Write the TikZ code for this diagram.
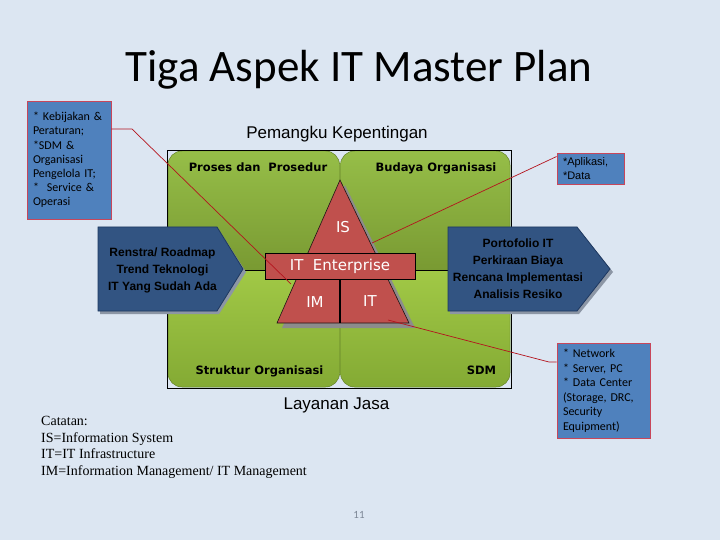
\documentclass[tikz,border=0pt]{standalone}
\usepackage{fontspec}
\setmainfont{Carlito}
\newfontfamily\arialf{Liberation Sans}
\newfontfamily\dejaf{DejaVu Sans}
\newfontfamily\timesf{Liberation Serif}
\usetikzlibrary{calc}
\definecolor{bg}{RGB}{220,230,242}
\definecolor{gTopA}{RGB}{150,190,72}
\definecolor{gTopB}{RGB}{118,150,48}
\definecolor{gBotA}{RGB}{164,204,72}
\definecolor{gBotB}{RGB}{132,170,52}
\definecolor{gEdge}{RGB}{100,130,40}
\definecolor{tri}{RGB}{192,80,77}
\definecolor{triD}{RGB}{30,20,20}
\definecolor{arA}{RGB}{50,84,130}
\definecolor{arB}{RGB}{30,56,96}
\definecolor{arTxt}{RGB}{0,0,0}
\definecolor{shd}{RGB}{140,150,165}
\definecolor{boxB}{RGB}{79,129,189}
\definecolor{boxR}{RGB}{200,70,90}
\definecolor{lineR}{RGB}{180,20,30}
\definecolor{pg}{RGB}{125,135,150}
\tikzset{
  quadlabel/.style={font=\dejaf\bfseries\fontsize{11.5}{14}\selectfont, anchor=base, inner sep=0pt},
  trilabel/.style={font=\dejaf\fontsize{15}{18}\selectfont, text=white, inner sep=0pt},
  arrowtext/.style={font=\arialf\bfseries\fontsize{12}{17}\selectfont, align=center, text=arTxt, inner sep=0pt},
  callbox/.style={draw=boxR, fill=boxB, line width=0.8pt, align=left, anchor=center, inner xsep=6pt, inner ysep=0pt},
  callline/.style={draw=lineR, line width=0.7pt},
  arrowshape/.style={fill=arA, draw=arB, line width=0.8pt},
}
\begin{document}
\begin{tikzpicture}[x=1pt,y=-1pt]
\fill[bg] (0,0) rectangle (720,540);
\useasboundingbox (0,0) rectangle (720,540);

% title
\node[font=\fontsize{45}{54}\selectfont, anchor=base, inner sep=0pt] (title) at (359,82) {Tiga Aspek IT Master Plan};

% green quadrants
\begin{scope}
  \clip (160,145) rectangle (339.5,270);
  \shade[top color=gTopA, bottom color=gTopB, draw=gEdge, line width=0.5pt, rounded corners=14pt] (168,151) rectangle (339.5,282);
\end{scope}
\begin{scope}
  \clip (340.5,145) rectangle (520,270);
  \shade[top color=gTopA, bottom color=gTopB, draw=gEdge, line width=0.5pt, rounded corners=14pt] (340.5,151) rectangle (510,282);
\end{scope}
\begin{scope}
  \clip (160,270) rectangle (339.5,395);
  \shade[top color=gBotA, bottom color=gBotB, draw=gEdge, line width=0.5pt, rounded corners=14pt] (168,258) rectangle (339.5,387);
\end{scope}
\begin{scope}
  \clip (340.5,270) rectangle (520,395);
  \shade[top color=gBotA, bottom color=gBotB, draw=gEdge, line width=0.5pt, rounded corners=14pt] (340.5,258) rectangle (510,387);
\end{scope}
\draw[line width=0.8pt] (167,150) rectangle (511,388);
\coordinate (midL) at (167,270);
\coordinate (midR) at (511,270);
\draw[line width=1pt] (midL) -- (midR);

% quadrant labels
\node[font=\arialf\fontsize{17}{20}\selectfont, anchor=base, inner sep=0pt] (pemangku) at (337,139) {Pemangku Kepentingan};
\node[quadlabel] (proses) at (258,172) {Proses dan\ \ Prosedur};
\node[quadlabel] (budaya) at (436,172) {Budaya Organisasi};
\node[quadlabel] (struktur) at (259.5,374) {Struktur Organisasi};
\node[quadlabel] (sdm) at (481.5,374) {SDM};
\node[font=\arialf\fontsize{17}{20}\selectfont, anchor=base, inner sep=0pt] (layanan) at (336.5,409) {Layanan Jasa};

% arrows
\fill[shd] (100,230) -- (219,230) -- (246,272) -- (219,314) -- (100,314) -- cycle;
\path[arrowshape] (98,227) -- (217,227) -- (243,269) -- (217,311) -- (98,311) -- cycle;
\node[arrowtext] (renstra) at (162.5,270) {Renstra/ Roadmap\\Trend Teknologi\\IT Yang Sudah Ada};

\fill[shd] (450,230) -- (579,230) -- (613,272) -- (579,314) -- (450,314) -- cycle;
\path[arrowshape] (448,227) -- (577,227) -- (610,269) -- (577,311) -- (448,311) -- cycle;
\node[arrowtext] (porto) at (518,269) {Portofolio IT\\Perkiraan Biaya\\Rencana Implementasi\\Analisis Resiko};

% triangle
\fill[black!45] (345,185) -- (415,328) -- (282,328) -- cycle;
\coordinate (apex) at (340,180);
\coordinate (baseR) at (409,323);
\coordinate (baseL) at (277,323);
\coordinate (baseM) at (340,323);
\filldraw[fill=tri, draw=triD, line width=0.6pt] (apex) -- (baseR) -- (baseL) -- cycle;

% callout boxes
\node[callbox, minimum width=84pt, minimum height=118pt, text width=72pt, font=\fontsize{12}{14.2}\selectfont] (lbox) at (69,160)
  {* Kebijakan \&\\Peraturan;\\{*}SDM \&\\Organisasi\\Pengelola IT;\\{*}\ \ Service \&\\Operasi\\[3pt]};
\node[callbox, minimum width=67pt, minimum height=31pt, text width=55pt, font=\arialf\fontsize{11}{14}\selectfont] (tbox) at (590.5,168.5)
  {*Aplikasi,\\{*}Data};
\node[callbox, minimum width=93pt, minimum height=95pt, text width=81pt, font=\fontsize{12}{14.5}\selectfont] (bbox) at (603.5,390.5)
  {* Network\\{*} Server, PC\\{*} Data Center\\(Storage, DRC,\\Security\\Equipment)};

% IT enterprise bar and labels
\node[draw=black, fill=tri, line width=0.8pt, minimum width=150pt, minimum height=26pt, inner sep=0pt, trilabel] (ent) at (340,266) {IT\ \ Enterprise};
\draw[line width=2pt] (ent.south) -- (baseM);
\node[trilabel] (is) at (343,227) {IS};
\node[trilabel] (im) at (315,302) {IM};
\node[trilabel] (it) at (370,301) {IT};

% callout lines
\coordinate (lbend) at (132,129);
\coordinate (ltgt) at (291,284);
\coordinate (ttgt) at (372,243);
\coordinate (bbend) at (549,362);
\coordinate (btgt) at (388,320);
\draw[callline] (lbox.east |- lbend) -- (lbend) -- (ltgt);
\draw[callline] ([yshift=12pt]tbox.west) -- (ttgt);
\draw[callline] (bbox.west |- bbend) -- (bbend) -- (btgt);

% notes
\node[anchor=north west, align=left, inner sep=0pt, font=\timesf\fontsize{14}{16.5}\selectfont] (note) at (41,416.5)
  {Catatan:\\IS=Information System\\IT=IT Infrastructure\\IM=Information Management/ IT Management};

\node[font=\fontsize{11}{13}\selectfont, text=pg, inner sep=0pt] (page) at (359,515) {11};
\end{tikzpicture}
\end{document}
